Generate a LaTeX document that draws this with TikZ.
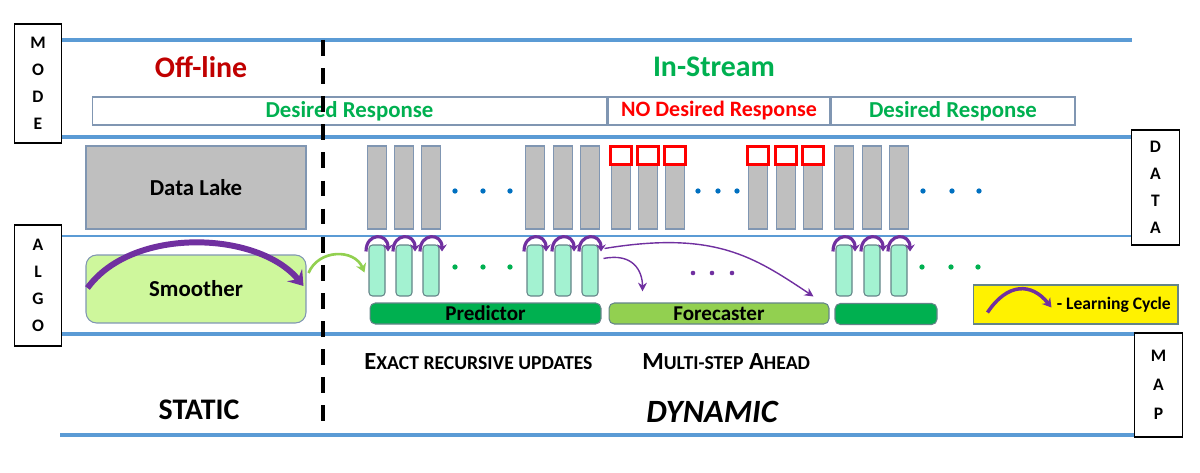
\documentclass[tikz,border=0pt]{standalone}
\usepackage{fontspec}
\setmainfont{Carlito}
\usepackage{xcolor}
\usepackage{tikz}
\usetikzlibrary{positioning, calc, arrows.meta}

\definecolor{bandblue}{RGB}{91,155,213}
\definecolor{edgegray}{RGB}{128,150,178}
\definecolor{lakegray}{RGB}{191,191,191}
\definecolor{offred}{RGB}{192,0,0}
\definecolor{nored}{RGB}{255,0,0}
\definecolor{okgreen}{RGB}{0,176,80}
\definecolor{mint}{RGB}{163,242,209}
\definecolor{mintedge}{RGB}{100,132,136}
\definecolor{lightgreen}{RGB}{146,208,80}
\definecolor{smoothgreen}{RGB}{206,247,156}
\definecolor{cyclepurple}{RGB}{112,48,160}
\definecolor{dotblue}{RGB}{0,112,192}

\begin{document}
\begin{tikzpicture}[x=0.02cm, y=-0.02cm, font=\bfseries,
    band/.style={draw=bandblue, line width=2pt},
    letterbox/.style={draw=black, fill=white, line width=0.6pt, minimum width=0.95cm, inner sep=0pt, align=center, font=\bfseries\fontsize{10}{15.3}\selectfont},
    respbox/.style={draw=edgegray, line width=0.6pt, minimum height=0.56cm, inner sep=0pt, font=\bfseries\fontsize{13}{14}\selectfont},
    datacol/.style={draw=edgegray, fill=lakegray, line width=0.6pt, minimum width=0.38cm, minimum height=1.66cm, inner sep=0pt},
    redsq/.style={draw=nored, fill=white, line width=1.4pt, minimum width=0.42cm, minimum height=0.36cm, inner sep=0pt},
    algocol/.style={draw=mintedge, fill=mint, line width=0.6pt, rounded corners=2pt, minimum width=0.32cm, minimum height=1.02cm, inner sep=0pt},
    barbox/.style={draw=mintedge, line width=0.6pt, rounded corners=3pt, minimum height=0.42cm, inner sep=0pt, font=\bfseries\fontsize{12}{14}\selectfont},
    cycle/.style={draw=cyclepurple, line width=1.8pt, -{Stealth[length=4pt,width=5.5pt]}},
    forearrow/.style={draw=cyclepurple, line width=0.8pt, -{Stealth[length=5pt,width=5pt]}}]

  \useasboundingbox (0,0) rectangle (1200,473);

  % bands
  \draw[band] (60,40) -- (1132,40);
  \draw[band] (62,137) -- (1132,137);
  \draw[band, line width=1.2pt] (62,236) -- (1134,236);
  \draw[band] (62,334) -- (1134,334);
  \draw[band] (60,435) -- (1134,435);

  \node[letterbox, minimum height=2.38cm] (mode) at (38,83.5) {M\\O\\D\\E};
  \node[letterbox, minimum height=2.42cm] (algo) at (38,285.5) {A\\L\\G\\O};
  \node[letterbox, minimum height=2.3cm] (data) at (1155.5,187.5) {D\\A\\T\\A};
  \node[letterbox, minimum height=2.08cm, font=\bfseries\fontsize{10}{16.5}\selectfont] (map) at (1158.5,385) {M\\A\\P};

  % mode row
  \node[text=offred, font=\bfseries\fontsize{17}{20}\selectfont] (offline) at (201,67) {Off-line};
  \node[text=okgreen, font=\bfseries\fontsize{17}{20}\selectfont] (instream) at (714,67) {In-Stream};
  \node[respbox, minimum width=10.3cm, text=okgreen] (resp1) at (349.5,111) {Desired Response};
  \node[respbox, minimum width=4.44cm, text=nored, right=0pt of resp1, font=\bfseries\fontsize{12.5}{14}\selectfont] (resp2) {NO Desired Response};
  \node[respbox, minimum width=4.88cm, text=okgreen, right=0pt of resp2] (resp3) {Desired Response};

  % data row
  \node[datacol, minimum width=4.4cm, font=\bfseries\fontsize{13}{15}\selectfont] (lake) at (196,187.5) {Data Lake};
  \foreach \cx [count=\i] in {377,404,431,535,563,590,621,648,675,758,786,813,844,872,899} {
    \node[datacol] (d\i) at (\cx,187.5) {};
  }
  \foreach \i in {7,...,12} {
    \node[redsq] (sq\i) at ($(d\i.north)+(0,10)$) {};
  }
  \foreach \dx in {455,483,510,698,718,737,923,952,979} {
    \fill[dotblue] (\dx,191) circle[radius=1.5pt];
  }

  % algo row
  \node[draw=edgegray, fill=smoothgreen, line width=0.6pt, rounded corners=6pt, minimum width=4.4cm, minimum height=1.36cm, font=\bfseries\fontsize{13}{15}\selectfont] (smoother) at (196,289) {Smoother};
  \foreach \cx [count=\i] in {377,404,431,535,563,590,844,872,899} {
    \node[algocol] (m\i) at (\cx,270.5) {};
    \draw[cycle] ($(m\i.north)+(-11,7)$) .. controls +(0,-19) and +(0,-19) .. ($(m\i.north)+(11,7)$);
  }
  \foreach \dx in {455,483,510,922,951,978} {
    \fill[okgreen] (\dx,267) circle[radius=1.5pt];
  }
  \foreach \dx in {693,712,732} {
    \fill[cyclepurple] (\dx,273) circle[radius=1.3pt];
  }
  \node[barbox, fill=okgreen, minimum width=4.62cm] (predictor) at (485.5,313.5) {Predictor};
  \node[barbox, fill=lightgreen, minimum width=4.4cm] (forecaster) at (719,313.5) {Forecaster};
  \node[barbox, fill=okgreen, minimum width=2.04cm] (nextbar) at (886,314) {};

  \draw[cyclepurple, line width=3.4pt, -{Stealth[length=8pt,width=11pt,inset=3pt]}] ($(smoother.west)+(2,-1)$) .. controls +(45,-62) and +(-45,-55) .. ($(smoother.east)+(-3,-3)$);
  \draw[lightgreen, line width=1.5pt, -{Stealth[length=5pt,width=6pt]}] ($(smoother.east)+(2,-16)$) .. controls +(10,-24) and +(-10,-24) .. ($(m1.west)+(-4,2)$);
  \draw[forearrow] ($(m6.north east)+(6,4)$) .. controls +(110,-18) and +(-60,-40) .. ($(forecaster.north east)+(-16,-6)$);
  \draw[forearrow] ($(m6.east)+(5,-12)$) .. controls +(30,-6) and +(0,-20) .. ($(forecaster.north west)+(34,-11)$);

  % legend
  \node[draw=mintedge, fill=yellow, line width=0.6pt, minimum width=4.1cm, minimum height=0.78cm, inner sep=0pt] (legend) at (1075.5,304.5) {};
  \draw[cyclepurple, line width=2pt, -{Stealth[length=5pt,width=6pt]}] ($(legend.west)+(15,8)$) .. controls +(20,-30) and +(-20,-25) .. ($(legend.west)+(79,3)$);
  \node[anchor=west, inner sep=0pt, font=\bfseries\fontsize{10}{12}\selectfont] (cyclelbl) at ($(legend.west)+(84,0)$) {- Learning Cycle};

  % map row
  \node[anchor=west, inner sep=0pt, font=\bfseries\fontsize{14}{16}\selectfont] (exact) at (364,362) {E{\fontsize{11.2}{13}\selectfont XACT RECURSIVE UPDATES}};
  \node[anchor=west, inner sep=0pt, font=\bfseries\fontsize{14}{16}\selectfont] (multi) at (642,362) {M{\fontsize{11.2}{13}\selectfont ULTI-STEP} A{\fontsize{11.2}{13}\selectfont HEAD}};
  \node[font=\bfseries\fontsize{17}{20}\selectfont] (static) at (199,410) {STATIC};
  \node[font=\bfseries\itshape\fontsize{18.5}{22}\selectfont] (dynamic) at (712,412) {DYNAMIC};

  % off-line / in-stream split
  \draw[black, line width=2.2pt, dash pattern=on 9pt off 7pt] (323,40) -- (323,432);
\end{tikzpicture}
\end{document}
